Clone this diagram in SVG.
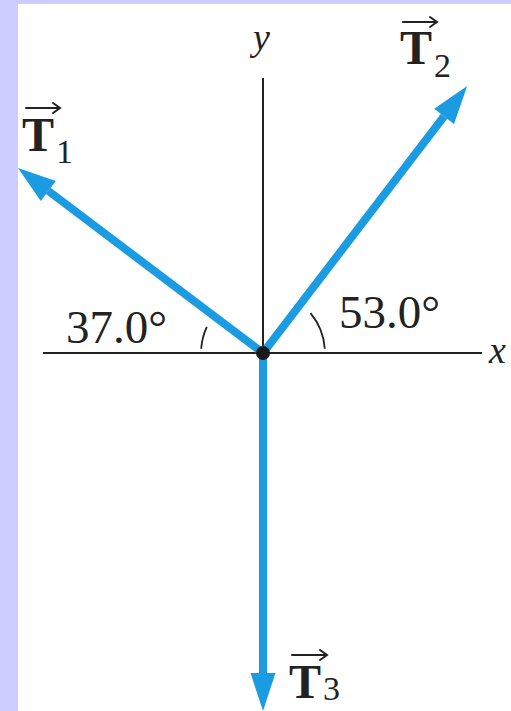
<svg xmlns="http://www.w3.org/2000/svg" width="511" height="711" viewBox="0 0 511 711">
  <style>
    .axis { stroke: #222; stroke-width: 2; fill: none; }
    .arc { stroke: #222; stroke-width: 1.8; fill: none; }
    .vec { stroke: #1b9ce2; stroke-width: 8; fill: none; marker-end: url(#head); }
    .lbl { font-family: "Liberation Serif", "DejaVu Serif", serif; fill: #222; }
    .ang { font-size: 47px; }
    .ax { font-size: 38px; font-style: italic; }
    .T { font-size: 48px; font-weight: bold; }
    .sub { font-size: 34px; }
    .over { stroke: #222; stroke-width: 2; fill: none; stroke-linecap: round; }
  </style>
  <defs>
    <marker id="head" markerUnits="userSpaceOnUse" markerWidth="60" markerHeight="60" refX="0" refY="0" orient="auto" overflow="visible" viewBox="-5 -30 60 60">
      <path d="M0,-12.5 L38,0 L0,12.5 Z" fill="#1b9ce2"/>
    </marker>
  </defs>
  <rect x="0" y="0" width="511" height="711" fill="#ccccff"/>
  <rect x="18" y="4" width="493" height="707" fill="#ffffff"/>

  <g id="axes">
    <line class="axis" x1="43" y1="353" x2="482" y2="353"/>
    <line class="axis" x1="263" y1="78" x2="263" y2="353"/>
    <text class="lbl ax" x="489" y="363">x</text>
    <text class="lbl ax" x="253" y="50">y</text>
  </g>

  <g id="angles">
    <path class="arc" d="M324.8,348.7 A62,62 0 0 0 310.5,313.1"/>
    <path class="arc" d="M201.2,348.7 A62,62 0 0 1 206.8,326.8"/>
    <text class="lbl ang" x="66" y="343">37.0°</text>
    <text class="lbl ang" x="339" y="328">53.0°</text>
  </g>

  <g id="connectors">
    <line class="vec" x1="263" y1="353" x2="48.3" y2="190.9"/>
    <line class="vec" x1="263" y1="353" x2="444.1" y2="116.3"/>
    <line class="vec" x1="263" y1="353" x2="263" y2="673"/>
  </g>

  <g id="origin">
    <circle cx="263" cy="353" r="7" fill="#1a1a1a"/>
  </g>

  <g id="T1">
    <path class="over" d="M26,108 H60 M53,103 L60,108 L53,113"/>
    <text class="lbl T" x="22" y="151">T</text>
    <text class="lbl sub" x="56" y="163">1</text>
  </g>
  <g id="T2">
    <path class="over" d="M403,22 H437 M430,17 L437,22 L430,27"/>
    <text class="lbl T" x="400" y="64">T</text>
    <text class="lbl sub" x="434" y="77">2</text>
  </g>
  <g id="T3">
    <path class="over" d="M292,655 H327 M320,650 L327,655 L320,660"/>
    <text class="lbl T" x="289" y="698">T</text>
    <text class="lbl sub" x="323" y="700">3</text>
  </g>
</svg>
